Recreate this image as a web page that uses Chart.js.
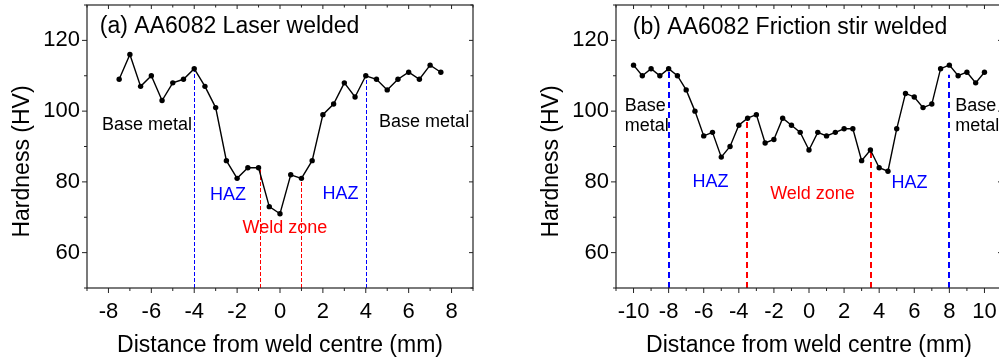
<!DOCTYPE html>
<html>
<head>
<meta charset="utf-8">
<script src="https://cdn.jsdelivr.net/npm/chart.js@4.4.1/dist/chart.umd.min.js"></script>
<style>
  html, body { margin: 0; padding: 0; background: #fff; overflow: hidden; }
  body { width: 999px; height: 363px; position: relative; }
  canvas { position: absolute; top: 0; }
  #chartA { left: 0; }
  #chartB { left: 520px; }
</style>
</head>
<body>
<canvas id="chartA" width="499" height="363"></canvas>
<canvas id="chartB" width="490" height="363"></canvas>
<script>
// ===== HARDNESS PROFILES ACROSS THE WELD =====

const FONT = '"Liberation Sans", Arial, sans-serif';
const BLUE = '#0000ff';
const RED = '#ff0000';

// shared y axis
const yLabels = [60, 80, 100, 120];

// (a) laser welded
const distA = [-7.5, -7, -6.5, -6, -5.5, -5, -4.5, -4, -3.5, -3, -2.5, -2, -1.5, -1, -0.5, 0,
  0.5, 1, 1.5, 2, 2.5, 3, 3.5, 4, 4.5, 5, 5.5, 6, 6.5, 7, 7.5];
const hvA = [109, 116, 107, 110, 103, 108, 109, 112, 107, 101, 86, 81, 84, 84, 73, 71,
  82, 81, 86, 99, 102, 108, 104, 110, 109, 106, 109, 111, 109, 113, 111];
const xLabelsA = [-8, -6, -4, -2, 0, 2, 4, 6, 8];
const zoneXA = [-4, -0.95, 1, 4];
const zoneTopA = [112, 84, 82, 110.2];
const zoneColA = [BLUE, RED, RED, BLUE];

// (b) friction stir welded
const distB = [-10, -9.5, -9, -8.5, -8, -7.5, -7, -6.5, -6, -5.5, -5, -4.5, -4, -3.5, -3, -2.5,
  -2, -1.5, -1, -0.5, 0, 0.5, 1, 1.5, 2, 2.5, 3, 3.5, 4, 4.5, 5, 5.5, 6, 6.5, 7, 7.5,
  8, 8.5, 9, 9.5, 10];
const hvB = [113, 110, 112, 110, 112, 110, 106, 100, 93, 94, 87, 90, 96, 98, 99, 91,
  92, 98, 96, 94, 89, 94, 93, 94, 95, 95, 86, 89, 84, 83, 95, 105, 104, 101, 102, 112,
  113, 110, 111, 108, 111];
const xLabelsB = [-10, -8, -6, -4, -2, 0, 2, 4, 6, 8, 10];
const zoneXB = [-8, -3.55, 3.55, 8];
const zoneTopB = [111.5, 98.1, 89, 110.3];
const zoneColB = [BLUE, RED, RED, BLUE];

// annotations, placed in data units
const notesA = [
  { text: '(a) AA6082 Laser welded', x: -8.4, y: 124, color: '#000', size: 23, align: 'left' },
  { text: 'Base metal', x: -6.2, y: 96, color: '#000', size: 18, align: 'center' },
  { text: 'Base metal', x: 6.72, y: 96.8, color: '#000', size: 18, align: 'center' },
  { text: 'HAZ', x: -2.43, y: 76.3, color: BLUE, size: 18, align: 'center' },
  { text: 'HAZ', x: 2.82, y: 76.5, color: BLUE, size: 18, align: 'center' },
  { text: 'Weld zone', x: 0.23, y: 67, color: RED, size: 18, align: 'center' },
];
const notesB = [
  { text: '(b) AA6082 Friction stir welded', x: -10.04, y: 123.5, color: '#000', size: 23, align: 'left' },
  { text: 'Base', x: -10.5, y: 101.3, color: '#000', size: 18, align: 'left' },
  { text: 'metal', x: -10.5, y: 95.7, color: '#000', size: 18, align: 'left' },
  { text: 'Base', x: 8.33, y: 101.3, color: '#000', size: 18, align: 'left' },
  { text: 'metal', x: 8.33, y: 95.7, color: '#000', size: 18, align: 'left' },
  { text: 'HAZ', x: -5.62, y: 80, color: BLUE, size: 18, align: 'center' },
  { text: 'Weld zone', x: 0.2, y: 76.5, color: RED, size: 18, align: 'center' },
  { text: 'HAZ', x: 5.73, y: 79.8, color: BLUE, size: 18, align: 'center' },
];

// dashed zone lines, frame with ticks, text notes and the y title
function decorPlugin(spec) {
  return {
    id: 'decor',
    beforeDatasetsDraw(chart) {
      const { ctx, scales: { x, y } } = chart;
      ctx.save();
      ctx.lineWidth = spec.dashWidth;
      ctx.setLineDash(spec.dash);
      spec.zoneX.forEach((v, i) => {
        let px = Math.round(x.getPixelForValue(v));
        if (spec.dashWidth % 2 === 1) px += 0.5;
        ctx.strokeStyle = spec.zoneCol[i];
        ctx.beginPath();
        ctx.moveTo(px, y.getPixelForValue(y.min));
        ctx.lineTo(px, y.getPixelForValue(spec.zoneTop[i]));
        ctx.stroke();
      });
      ctx.restore();
    },
    afterDraw(chart) {
      const { ctx, chartArea: a, scales: { x, y } } = chart;
      ctx.save();
      ctx.strokeStyle = '#222';
      ctx.lineWidth = 1.2;
      ctx.strokeRect(a.left, a.top, a.right - a.left, a.bottom - a.top);

      ctx.lineWidth = 1;
      ctx.beginPath();
      for (let v = x.min; v <= x.max; v++) {
        const px = x.getPixelForValue(v);
        const major = spec.xLabels.includes(v);
        const out = major ? 5 : 3, inn = major ? 4 : 2.5;
        ctx.moveTo(px, a.bottom); ctx.lineTo(px, a.bottom + out);
        ctx.moveTo(px, a.top); ctx.lineTo(px, a.top + inn);
      }
      for (let v = y.min; v <= y.max; v += 10) {
        const py = y.getPixelForValue(v);
        const major = yLabels.includes(v);
        const out = major ? 5 : 3, inn = major ? 4 : 2.5;
        ctx.moveTo(a.left, py); ctx.lineTo(a.left - out, py);
        ctx.moveTo(a.right, py); ctx.lineTo(a.right - inn, py);
      }
      ctx.stroke();

      ctx.textBaseline = 'middle';
      spec.notes.forEach(n => {
        ctx.font = n.size + 'px ' + FONT;
        ctx.fillStyle = n.color;
        ctx.textAlign = n.align;
        ctx.fillText(n.text, x.getPixelForValue(n.x), y.getPixelForValue(n.y));
      });

      ctx.translate(a.left - 64, (a.top + a.bottom) / 2 + 15);
      ctx.rotate(-Math.PI / 2);
      ctx.font = '23px ' + FONT;
      ctx.fillStyle = '#000';
      ctx.textAlign = 'center';
      ctx.fillText('Hardness (HV)', 0, 0);
      ctx.restore();
    }
  };
}

function makeChart(id, spec) {
  const ctx = document.getElementById(id).getContext('2d');
  return new Chart(ctx, {
    type: 'line',
    data: {
      datasets: [{
        data: spec.dist.map((d, i) => ({ x: d, y: spec.hv[i] })),
        borderColor: '#000',
        borderWidth: 1.4,
        pointRadius: 2.7,
        pointBackgroundColor: '#000',
        pointBorderWidth: 0,
        tension: 0,
      }]
    },
    options: {
      responsive: false,
      animation: false,
      devicePixelRatio: 1,
      layout: { padding: { left: 0, right: spec.padRight, top: 5, bottom: 0 } },
      plugins: { legend: { display: false }, tooltip: { enabled: false } },
      scales: {
        x: {
          type: 'linear',
          min: spec.xMin,
          max: spec.xMax,
          border: { display: false },
          grid: { display: false, drawTicks: false },
          ticks: {
            stepSize: 1,
            autoSkip: false,
            maxRotation: 0,
            padding: 11,
            color: '#000',
            font: { family: FONT, size: 22 },
            callback: v => spec.xLabels.includes(v) ? String(v) : ''
          },
          title: {
            display: true,
            text: 'Distance from weld centre (mm)',
            color: '#000',
            font: { family: FONT, size: 23 },
            padding: { top: 0, bottom: 4 }
          },
          afterFit: s => { s.height = 75; s.paddingLeft = 0; s.paddingRight = 0; }
        },
        y: {
          min: 50,
          max: 130,
          border: { display: false },
          grid: { display: false, drawTicks: false },
          ticks: {
            stepSize: 10,
            autoSkip: false,
            padding: 7,
            color: '#000',
            font: { family: FONT, size: 22 },
            callback: v => yLabels.includes(v) ? String(v) : ''
          },
          afterFit: s => { s.width = spec.yWidth; s.paddingTop = 0; s.paddingBottom = 0; }
        }
      }
    },
    plugins: [decorPlugin(spec)]
  });
}

makeChart('chartA', {
  dist: distA, hv: hvA, xMin: -9, xMax: 9, xLabels: xLabelsA,
  zoneX: zoneXA, zoneTop: zoneTopA, zoneCol: zoneColA, dash: [4, 2], dashWidth: 1,
  notes: notesA, yWidth: 87, padRight: 26
});

makeChart('chartB', {
  dist: distB, hv: hvB, xMin: -11, xMax: 11, xLabels: xLabelsB,
  zoneX: zoneXB, zoneTop: zoneTopB, zoneCol: zoneColB, dash: [6, 4], dashWidth: 2,
  notes: notesB, yWidth: 96, padRight: 8
});
</script>
</body>
</html>
